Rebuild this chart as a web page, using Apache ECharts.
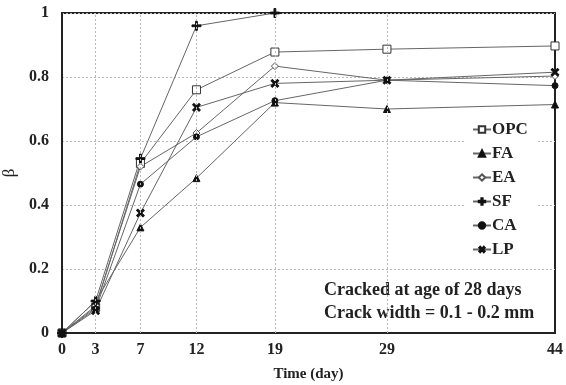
<!DOCTYPE html>
<html>
<head>
<meta charset="utf-8">
<script src="https://cdn.jsdelivr.net/npm/echarts@6/dist/echarts.min.js"></script>
<style>
  html, body { margin: 0; padding: 0; background: #fff; }
  #chart { width: 566px; height: 385px; }
</style>
</head>
<body>
<div id="chart"></div>
<script>
  // days of measurement (x ticks)
  const days = [0, 3, 7, 12, 19, 29, 44];
  // beta values per mix
  const OPC = [0, 0.08, 0.53, 0.76, 0.878, 0.887, 0.897];
  const FA = [0, 0.10, 0.33, 0.484, 0.72, 0.70, 0.714];
  const EA = [0, 0.085, 0.52, 0.625, 0.834, 0.79, 0.803];
  const SF = [0, 0.10, 0.545, 0.96, 1.0, null, null];
  const CA = [0, 0.075, 0.465, 0.613, 0.726, 0.79, 0.773];
  const LP = [0, 0.07, 0.375, 0.705, 0.78, 0.79, 0.815];

  const font = 'Liberation Serif';
  const plusPath = 'path://M4,0 L6,0 L6,4 L10,4 L10,6 L6,6 L6,10 L4,10 L4,6 L0,6 L0,4 L4,4 Z';

  function pairs(vals) {
    return days.map((d, i) => [d, vals[i]]).filter(p => p[1] !== null);
  }

  function makeSeries(name, vals, symbol, opts) {
    return Object.assign({
      name: name,
      type: 'line',
      data: pairs(vals),
      symbol: symbol,
      symbolSize: 7,
      lineStyle: { color: '#666', width: 1 },
      itemStyle: { color: '#111', borderColor: '#111', borderWidth: 1 },
      emphasis: { disabled: true },
      z: 3
    }, opts || {});
  }

  const series = [
    makeSeries('OPC', OPC, 'rect', { symbolSize: 8, itemStyle: { color: '#fff', borderColor: '#333', borderWidth: 1 } }),
    makeSeries('FA', FA, 'triangle', { symbolSize: 7 }),
    makeSeries('EA', EA, 'diamond', { symbolSize: 7, itemStyle: { color: '#fff', borderColor: '#555', borderWidth: 1 } }),
    makeSeries('SF', SF, plusPath, { symbolSize: 9 }),
    makeSeries('CA', CA, 'circle', { symbolSize: 6 }),
    makeSeries('LP', LP, plusPath, { symbolSize: 9, symbolRotate: 45 })
  ];

  // vertical dashed grid lines at the day ticks
  series.push({
    type: 'line',
    data: [],
    silent: true,
    markLine: {
      symbol: 'none',
      silent: true,
      label: { show: false },
      lineStyle: { color: '#bbb', type: [2, 2], width: 1 },
      data: days.slice(1, -1).map(d => ({ xAxis: d }))
    }
  });

  const chart = echarts.init(document.getElementById('chart'), null, { renderer: 'canvas' });
  chart.setOption({
    animation: false,
    backgroundColor: '#fff',
    grid: {
      left: 62, right: 11, top: 13, bottom: 52,
      outerBoundsMode: 'none',
      containLabel: false,
      show: true, borderColor: '#222', borderWidth: 2, backgroundColor: 'transparent'
    },
    legend: {
      orient: 'vertical',
      left: 466,
      top: 117,
      itemGap: 7,
      itemWidth: 18,
      itemHeight: 8,
      padding: [4, 10, 4, 6],
      backgroundColor: '#fff',
      textStyle: { fontFamily: font, fontWeight: 'bold', fontSize: 17, color: '#222', padding: [0, 0, 0, -4] },
      data: ['OPC', 'FA', 'EA', 'SF', 'CA', 'LP']
    },
    xAxis: {
      type: 'value',
      min: 0,
      max: 44,
      name: 'Time (day)',
      nameLocation: 'middle',
      nameGap: 34,
      nameTextStyle: { fontFamily: font, fontWeight: 'bold', fontSize: 15, color: '#222' },
      axisLine: { onZero: false, lineStyle: { color: '#222', width: 2 } },
      axisTick: { show: false },
      splitLine: { show: false },
      axisLabel: {
        customValues: days,
        margin: 9,
        fontFamily: font, fontWeight: 'bold', fontSize: 16, color: '#222'
      }
    },
    yAxis: {
      type: 'value',
      min: 0,
      max: 1,
      interval: 0.2,
      name: 'β',
      nameLocation: 'middle',
      nameGap: 41,
      nameTextStyle: { fontFamily: font, fontSize: 17, color: '#222' },
      axisLine: { show: true, lineStyle: { color: '#222', width: 2 } },
      axisTick: { show: false },
      splitLine: { show: true, lineStyle: { color: '#bbb', type: [2, 2], width: 1 } },
      axisLabel: {
        margin: 13,
        formatter: v => String(Math.round(v * 10) / 10),
        fontFamily: font, fontWeight: 'bold', fontSize: 16, color: '#222'
      }
    },
    graphic: [
      {
        type: 'text',
        left: 324,
        top: 279,
        style: {
          text: 'Cracked at age of 28 days\nCrack width = 0.1 - 0.2 mm',
          align: 'center',
          lineHeight: 23,
          font: 'bold 18px "Liberation Serif"',
          fill: '#222'
        }
      }
    ],
    series: series
  });
</script>
</body>
</html>
